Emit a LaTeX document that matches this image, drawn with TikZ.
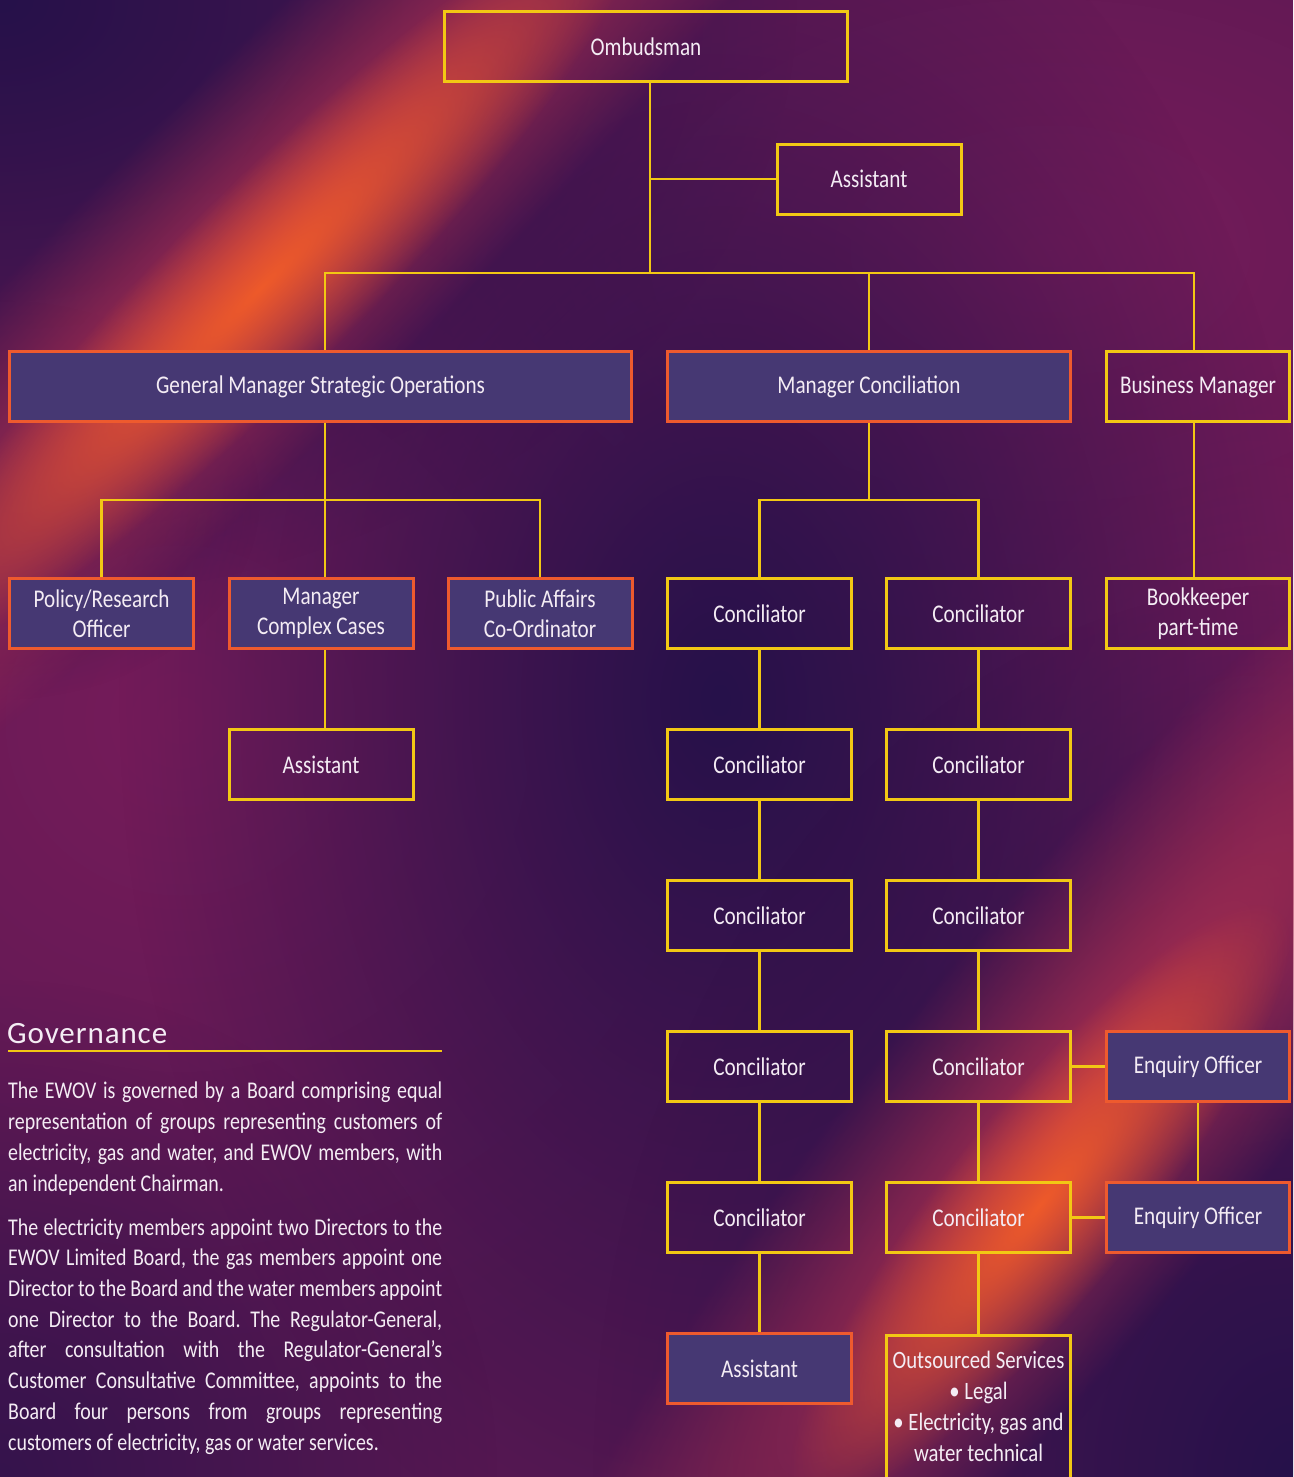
\documentclass[tikz,border=0pt]{standalone}
\usepackage{fontspec}
\setmainfont[FakeStretch=0.83]{Carlito}
\newfontfamily\titlefont[LetterSpace=3]{Carlito}
\usetikzlibrary{fadings,calc}
\definecolor{ybord}{HTML}{F2C814}
\definecolor{obord}{HTML}{EE5A2E}
\definecolor{bfill}{HTML}{463873}
\definecolor{txt}{HTML}{F4ECF4}
\definecolor{bgbase}{HTML}{581852}
\definecolor{navy}{HTML}{26114A}
\definecolor{magl}{HTML}{761C5A}
\definecolor{redst}{HTML}{B03050}
\definecolor{orst}{HTML}{EE5A2A}
\tikzfading[name=soft, inner color=transparent!0, outer color=transparent!100]
\frenchspacing
\begin{document}
\begin{tikzpicture}[x=1pt,y=-1pt,
  box/.style={rectangle, line width=3pt, minimum height=70pt, text=txt,
    font=\fontsize{25.5}{30}\selectfont, align=center, inner sep=0pt},
  ybox/.style={box, draw=ybord},
  obox/.style={box, draw=obord, fill=bfill},
  conn/.style={draw=ybord, line width=2.5pt},
  govline/.style={text=txt, font=\fontsize{24}{30}\selectfont, inner sep=0pt, anchor=base west}]
\useasboundingbox (0,0) rectangle (1293,1477);
% ---------- background ----------
\begin{scope}
\clip (0,0) rectangle (1293,1477);
\fill[bgbase] (0,0) rectangle (1293,1477);
\fill[magl, path fading=soft] (180,720) ellipse (700 and 700);
\fill[magl, path fading=soft] (1050,250) ellipse (800 and 500);
\fill[magl, path fading=soft] (1250,800) ellipse (400 and 500);
\fill[navy, path fading=soft] (0,0) ellipse (800 and 600);
\fill[navy, path fading=soft] (720,700) ellipse (600 and 900);
\fill[navy, path fading=soft] (1293,1477) ellipse (700 and 900);
\fill[navy, path fading=soft, opacity=0.7] (0,1477) ellipse (500 and 500);
\fill[navy, path fading=soft, opacity=0.6] (0,500) ellipse (260 and 200);
\end{scope}
\begin{scope}[transform canvas={rotate around={45:(260,260)}}]
\fill[redst, path fading=soft] (260,260) ellipse (1100 and 170);
\fill[orst, path fading=soft] (240,280) ellipse (520 and 95);
\end{scope}
\begin{scope}[transform canvas={rotate around={51:(1070,1120)}}]
\fill[redst, path fading=soft] (1070,1120) ellipse (900 and 190);
\fill[orst, path fading=soft] (985,1150) ellipse (380 and 95);
\end{scope}
% ---------- boxes ----------
\node[ybox, minimum width=403] (omb) at (646,46.5) {Ombudsman};
\node[ybox, minimum width=184] (asst0) at (869,179) {Assistant};
\node[obox, minimum width=622] (gmso) at (320.5,386.5) {General Manager Strategic Operations};
\node[obox, minimum width=403] (mc) at (869,386.5) {Manager Conciliation};
\node[ybox, minimum width=183] (bm) at (1198,386.5) {Business Manager};
\node[obox, minimum width=184] (pro) at (101.5,613.5) {Policy/Research\\Officer};
\node[obox, minimum width=184] (mcc) at (321,613.5) {Manager\\Complex Cases};
\node[obox, minimum width=184] (pac) at (540,613.5) {Public Affairs\\Co-Ordinator};
\node[ybox, minimum width=184] (asst1) at (321,764.5) {Assistant};
\node[ybox, minimum width=183] (bk) at (1198,613.5) {Bookkeeper\\part-time};
\foreach \i/\y in {1/613.5,2/764.5,3/915.5,4/1066.5,5/1217.5}{
  \node[ybox, minimum width=184] (cA\i) at (759.5,\y) {Conciliator};
  \node[ybox, minimum width=184] (cB\i) at (978.5,\y) {Conciliator};
}
\node[obox, minimum width=184] (asst2) at (759.5,1368.5) {Assistant};
\node[obox, minimum width=183] (eo1) at (1198,1066.5) {Enquiry Officer};
\node[obox, minimum width=183] (eo2) at (1198,1217.5) {Enquiry Officer};
\node[ybox, minimum width=184, minimum height=170, anchor=north] (os) at (978.5,1333.5) {};
\node[text=txt, font=\fontsize{25}{31}\selectfont, align=center, inner sep=0pt] (ostext) at (978.5,1406)
  {Outsourced Services\\\textbullet\ Legal\\\textbullet\ Electricity, gas and\\water technical};
% ---------- connectors ----------
\coordinate (j0) at (650,273);
\coordinate (jl) at (325,273);
\coordinate (jr) at (1194,273);
\draw[conn] (omb.south -| j0) -- (j0);
\draw[conn] (asst0.west) -- (asst0.west -| j0);
\draw[conn] (gmso.north -| jl) -- (jl) -- (jr) -- (bm.north -| jr);
\draw[conn] (mc.north) -- (mc.north |- jl);
\draw[conn] (bm.south -| jr) -- (bk.north -| jr);
\coordinate (k1) at (325,500);
\draw[conn] (gmso.south -| k1) -- (k1);
\draw[conn] (pro.north) |- (pac.north |- k1) -- (pac.north);
\draw[conn] (mcc.north -| k1) -- (k1);
\draw[conn] (mcc.south -| k1) -- (asst1.north -| k1);
\coordinate (k2) at (869,500);
\draw[conn] (mc.south) -- (k2);
\draw[conn] (cA1.north) |- (cB1.north |- k2) -- (cB1.north);
\foreach \i/\j in {1/2,2/3,3/4,4/5}{
  \draw[conn] (cA\i.south) -- (cA\j.north);
  \draw[conn] (cB\i.south) -- (cB\j.north);
}
\draw[conn] (cA5.south) -- (asst2.north);
\draw[conn] (cB5.south) -- (os.north);
\draw[conn] (cB4.east) -- (eo1.west);
\draw[conn] (cB5.east) -- (eo2.west);
\draw[conn] (eo1.south) -- (eo2.north);
% ---------- governance ----------
\node[text=txt, inner sep=0pt, anchor=base west, font=\titlefont\fontsize{31}{36}\selectfont] (govt) at (7,1043) {Governance};
\coordinate (gr1) at (8,1050.5);
\coordinate (gr2) at (442,1050.5);
\draw[draw=ybord, line width=2pt] (gr1) -- (gr2);
\foreach \t [count=\i from 0] in {
  {The EWOV is governed by a Board comprising equal},
  {representation of groups representing customers of},
  {electricity, gas and water, and EWOV members, with}}{
  \node[govline] (pa\i) at (8,1098+31*\i) {\makebox[434pt][s]{\t}};
}
\node[govline] (pa3) at (8,1191) {an independent Chairman.};
\foreach \t [count=\i from 0] in {
  {The electricity members appoint two Directors to the},
  {EWOV Limited Board, the gas members appoint one},
  {Director to the Board and the water members appoint},
  {one Director to the Board. The Regulator-General,},
  {after consultation with the Regulator-General’s},
  {Customer Consultative Committee, appoints to the},
  {Board four persons from groups representing}}{
  \node[govline] (pb\i) at (8,1235+30.7*\i) {\makebox[434pt][s]{\t}};
}
\node[govline] (pb7) at (8,1450) {customers of electricity, gas or water services.};
\end{tikzpicture}
\end{document}
